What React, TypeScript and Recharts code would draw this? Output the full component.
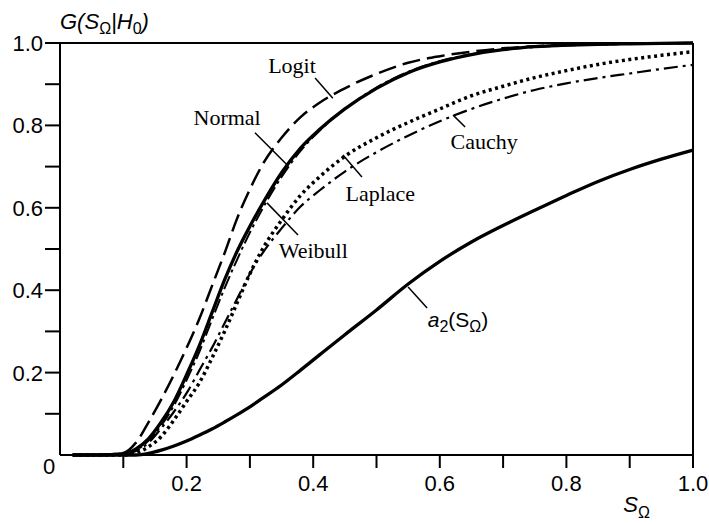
import React from "react";
import { LineChart, Line, XAxis, YAxis, ReferenceLine, ReferenceDot } from "recharts";

// S_Omega grid and curve values
const sOmega = [0.02, 0.06, 0.1, 0.12, 0.14, 0.16, 0.18, 0.2, 0.22, 0.24, 0.26, 0.28, 0.3, 0.32, 0.35, 0.38, 0.41, 0.45, 0.5, 0.55, 0.6, 0.65, 0.7, 0.75, 0.8, 0.85, 0.9, 0.95, 1.0];
const logit   = [0, 0, 0.005, 0.03, 0.08, 0.135, 0.195, 0.26, 0.33, 0.41, 0.49, 0.575, 0.645, 0.705, 0.77, 0.82, 0.855, 0.89, 0.925, 0.952, 0.968, 0.979, 0.987, 0.992, 0.995, 0.997, 0.998, 0.999, 1.0];
const normal  = [0, 0, 0.003, 0.015, 0.04, 0.08, 0.13, 0.195, 0.265, 0.345, 0.425, 0.495, 0.555, 0.61, 0.685, 0.745, 0.79, 0.84, 0.89, 0.928, 0.954, 0.972, 0.984, 0.991, 0.995, 0.997, 0.998, 0.999, 1.0];
const weibull = [0, 0, 0.002, 0.012, 0.035, 0.072, 0.12, 0.182, 0.25, 0.328, 0.405, 0.475, 0.54, 0.598, 0.675, 0.738, 0.787, 0.84, 0.892, 0.93, 0.956, 0.973, 0.984, 0.99, 0.994, 0.996, 0.998, 0.999, 1.0];
const laplace = [0, 0, 0, 0.005, 0.02, 0.045, 0.085, 0.13, 0.175, 0.235, 0.3, 0.37, 0.44, 0.5, 0.57, 0.63, 0.675, 0.725, 0.77, 0.807, 0.84, 0.872, 0.895, 0.916, 0.933, 0.948, 0.96, 0.97, 0.979];
const cauchy  = [0, 0, 0.002, 0.01, 0.03, 0.065, 0.105, 0.15, 0.205, 0.26, 0.32, 0.38, 0.44, 0.49, 0.55, 0.603, 0.642, 0.688, 0.735, 0.775, 0.81, 0.84, 0.865, 0.886, 0.902, 0.915, 0.926, 0.937, 0.947];
const a2      = [0, 0, 0, 0, 0.004, 0.012, 0.022, 0.034, 0.048, 0.063, 0.08, 0.098, 0.117, 0.138, 0.17, 0.206, 0.243, 0.292, 0.352, 0.415, 0.47, 0.517, 0.557, 0.594, 0.63, 0.664, 0.693, 0.718, 0.74];

const xTicks = [0.1, 0.2, 0.3, 0.4, 0.5, 0.6, 0.7, 0.8, 0.9, 1.0];
const yTicks = [0, 0.1, 0.2, 0.3, 0.4, 0.5, 0.6, 0.7, 0.8, 0.9, 1.0];
const xTickLabels: Record<number, string> = { 2: "0.2", 4: "0.4", 6: "0.6", 8: "0.8", 10: "1.0" };
const yTickLabels: Record<number, string> = { 0: "0", 2: "0.2", 4: "0.4", 6: "0.6", 8: "0.8", 10: "1.0" };

const rows = sOmega.map((s, i) => ({
  s,
  logit: logit[i],
  normal: normal[i],
  weibull: weibull[i],
  laplace: laplace[i],
  cauchy: cauchy[i],
  a2: a2[i],
}));

const series = [
  { key: "a2", width: 3.3, dash: undefined },
  { key: "laplace", width: 3.5, dash: "3 3.5" },
  { key: "cauchy", width: 2.2, dash: "14 5 3 5" },
  { key: "logit", width: 2.5, dash: "18 7" },
  { key: "normal", width: 3.3, dash: undefined },
  { key: "weibull", width: 2, dash: "14 4 3 4" },
];

// curve labels and leader lines, in data units
const notes = [
  { text: "Logit", x: 0.3665, y: 0.944, from: [0.403, 0.915], to: [0.431, 0.866] },
  { text: "Normal", x: 0.264, y: 0.818, from: [0.308, 0.782], to: [0.359, 0.704] },
  { text: "Weibull", x: 0.4, y: 0.495, from: [0.327, 0.612], to: [0.376, 0.534] },
  { text: "Laplace", x: 0.506, y: 0.633, from: [0.447, 0.728], to: [0.477, 0.675] },
  { text: "Cauchy", x: 0.67, y: 0.76, from: [0.621, 0.825], to: [0.64, 0.796] },
  { text: "a2", x: 0.581, y: 0.328, from: [0.55, 0.408], to: [0.58, 0.357] },
];

const sans = "'Liberation Sans', Arial, sans-serif";
const serif = "'Liberation Serif', 'Times New Roman', serif";

const XTick = (p: any) => {
  const k = Math.round(p.payload.value * 10);
  return (
    <g>
      <line x1={p.x} x2={p.x} y1={p.y} y2={p.y + 13} stroke="#000" strokeWidth={2} />
      {xTickLabels[k] && (
        <text x={p.x} y={p.y + 36} textAnchor="middle" fontFamily={sans} fontSize={22} fill="#000">
          {xTickLabels[k]}
        </text>
      )}
    </g>
  );
};

const YTick = (p: any) => {
  const k = Math.round(p.payload.value * 10);
  if (k === 0) {
    return (
      <text x={p.x - 11} y={p.y + 19} textAnchor="middle" fontFamily={sans} fontSize={22} fill="#000">
        0
      </text>
    );
  }
  return (
    <g>
      <line x1={p.x - 15} x2={p.x} y1={p.y} y2={p.y} stroke="#000" strokeWidth={2} />
      {yTickLabels[k] && (
        <text x={p.x - 17} y={p.y + 8} textAnchor="end" fontFamily={sans} fontSize={22} fill="#000">
          {yTickLabels[k]}
        </text>
      )}
    </g>
  );
};

const NoteText = (text: string) => (p: any) => {
  if (text === "a2") {
    return (
      <text x={p.cx} y={p.cy + 7} fontFamily={sans} fontSize={21} fill="#000">
        <tspan fontStyle="italic">a</tspan>
        <tspan dy={5} fontSize={16}>2</tspan>
        <tspan dy={-5}>(S</tspan>
        <tspan dy={5} fontSize={16}>Ω</tspan>
        <tspan dy={-5}>)</tspan>
      </text>
    );
  }
  return (
    <text x={p.cx} y={p.cy + 7} textAnchor="middle" fontFamily={serif} fontSize={22} fill="#000">
      {text}
    </text>
  );
};

const YTitle = (p: any) => {
  const vb = p.viewBox;
  return (
    <text x={vb.x + vb.width} y={vb.y - 14} fontFamily={sans} fontSize={22} fill="#000" fontStyle="italic">
      G(S
      <tspan dy={5} fontSize={16} fontStyle="normal">Ω</tspan>
      <tspan dy={-5}>|H</tspan>
      <tspan dy={5} fontSize={16} fontStyle="normal">0</tspan>
      <tspan dy={-5}>)</tspan>
    </text>
  );
};

const XTitle = (p: any) => {
  const vb = p.viewBox;
  return (
    <text x={vb.x + vb.width * 0.9 + 7} y={vb.y + 57} textAnchor="middle" fontFamily={sans} fontSize={22} fill="#000" fontStyle="italic">
      S
      <tspan dy={6} fontSize={16} fontStyle="normal">Ω</tspan>
    </text>
  );
};

export default function App() {
  return (
    <div style={{ position: "absolute", left: 0, top: 0, background: "#fff" }}>
      <LineChart width={709} height={524} data={rows} margin={{ top: 43, right: 16, bottom: 0, left: 0 }}>
        <XAxis
          type="number"
          dataKey="s"
          domain={[0, 1]}
          ticks={xTicks}
          tick={XTick}
          tickLine={false}
          tickSize={0}
          tickMargin={0}
          height={69}
          axisLine={{ stroke: "#000", strokeWidth: 2 }}
          label={{ content: XTitle }}
        />
        <YAxis
          type="number"
          domain={[0, 1]}
          ticks={yTicks}
          tick={YTick}
          tickLine={false}
          tickSize={0}
          tickMargin={0}
          width={60}
          axisLine={{ stroke: "#000", strokeWidth: 2 }}
          label={{ content: YTitle }}
        />
        <ReferenceLine y={1} stroke="#000" strokeWidth={2} />
        <ReferenceLine x={1} stroke="#000" strokeWidth={2} />
        {series.map((sr) => (
          <Line
            key={sr.key}
            dataKey={sr.key}
            type="monotone"
            stroke="#000"
            strokeWidth={sr.width}
            strokeDasharray={sr.dash}
            dot={false}
            isAnimationActive={false}
          />
        ))}
        {notes.map((n) => (
          <ReferenceLine
            key={"l" + n.text}
            segment={[{ x: n.from[0], y: n.from[1] }, { x: n.to[0], y: n.to[1] }]}
            stroke="#000"
            strokeWidth={1.5}
          />
        ))}
        {notes.map((n) => (
          <ReferenceDot key={"t" + n.text} x={n.x} y={n.y} r={0} shape={NoteText(n.text)} />
        ))}
      </LineChart>
    </div>
  );
}
